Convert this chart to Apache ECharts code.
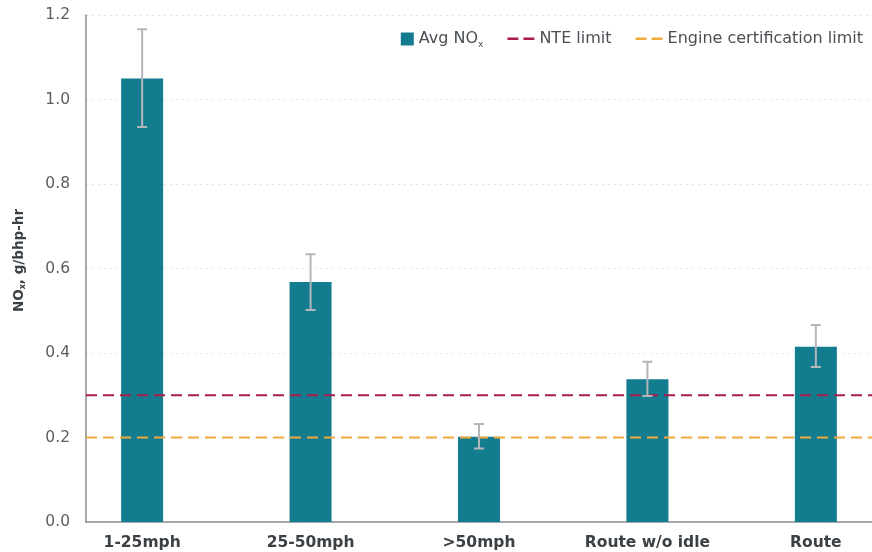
<!DOCTYPE html>
<html>
<head>
<meta charset="utf-8">
<script src="https://cdn.jsdelivr.net/npm/echarts@6/dist/echarts.min.js"></script>
<style>
html,body{margin:0;padding:0;background:#fff;}
#chart{width:872px;height:552px;}
</style>
</head>
<body>
<div id="chart"></div>
<script>
// Average NOx by speed bin, with error-bar range
const categories = ['1-25mph', '25-50mph', '>50mph', 'Route w/o idle', 'Route'];
const avgNox = [1.05, 0.568, 0.202, 0.338, 0.415];
const errLow = [0.935, 0.502, 0.174, 0.298, 0.367];
const errHigh = [1.166, 0.634, 0.232, 0.379, 0.466];
const nteLimit = 0.3;
const certLimit = 0.2;
const yTicks = [0, 0.2, 0.4, 0.6, 0.8, 1.0, 1.2];

const FONT = '"DejaVu Sans", "Open Sans", sans-serif';
const xMin = -1 / 3, xMax = categories.length - 1 + 1 / 3;

const BAR_COLOR = '#137c8e';
const NTE_COLOR = '#a81d4e';
const CERT_COLOR = '#f2a93b';
const AXIS_COLOR = '#8a8d90';

// legend glyphs: a square for the bars, a pair of dashes for the limit lines
const squareIcon = 'path://M14,0H27V13H14Z M0,0L0,0';
const dashIcon = 'path://M0,5H11V7.5H0Z M16,5H27V7.5H16Z M0,0L0,0 M27,13L27,13';

const chart = echarts.init(document.getElementById('chart'), null, { renderer: 'canvas' });

const barData = avgNox.map((v, i) => [i, v]);
const errData = categories.map((c, i) => [i, errLow[i], errHigh[i]]);

chart.setOption({
  animation: false,
  textStyle: { fontFamily: FONT },
  grid: { left: 86, right: 0, top: 15, bottom: 30, containLabel: false },
  legend: {
    top: 26, right: 4,
    itemGap: 24,
    itemWidth: 27, itemHeight: 13,
    textStyle: {
      fontFamily: FONT, fontSize: 16, color: '#4a4f54',
      rich: { sub: { fontSize: 9, verticalAlign: 'bottom', padding: [11, 0, 0, 0], color: '#4a4f54', fontFamily: FONT } }
    },
    data: [
      { name: 'Avg NOx', icon: squareIcon, itemStyle: { color: BAR_COLOR } },
      { name: 'NTE limit', icon: dashIcon, itemStyle: { color: NTE_COLOR } },
      { name: 'Engine certification limit', icon: dashIcon, itemStyle: { color: CERT_COLOR } }
    ],
    formatter: n => n === 'Avg NOx' ? 'Avg NO{sub|x}' : n
  },
  xAxis: {
    type: 'value', min: xMin, max: xMax,
    axisLine: { show: true, onZero: false, lineStyle: { color: AXIS_COLOR, width: 1.5 } },
    axisTick: { show: false },
    splitLine: { show: false },
    axisLabel: {
      customValues: categories.map((c, i) => i),
      formatter: v => categories[Math.round(v)] || '',
      fontFamily: FONT, fontSize: 15.5, fontWeight: 'bold', color: '#3b4045', margin: 13
    }
  },
  yAxis: {
    type: 'value', min: 0, max: 1.2, interval: 0.2,
    name: 'NO{sub|x}, g/bhp-hr',
    nameLocation: 'middle', nameGap: 60, nameRotate: 90,
    nameTextStyle: {
      fontFamily: FONT, fontSize: 13.5, fontWeight: 'bold', color: '#3b4045',
      rich: { sub: { fontSize: 8, fontWeight: 'bold', color: '#3b4045', padding: [0, 0, -8, 0] } },
      padding: [0, 0, 0, 16]
    },
    axisLine: { show: true, onZero: false, lineStyle: { color: AXIS_COLOR, width: 1.5 } },
    axisTick: { show: false },
    splitLine: { show: true, lineStyle: { color: '#e0e2e4', type: [2, 4], width: 1 } },
    axisLabel: {
      fontFamily: FONT, fontSize: 15.5, color: '#5a5f64', margin: 16,
      formatter: v => yTicks.includes(Math.round(v * 10) / 10) ? v.toFixed(1) : ''
    }
  },
  series: [
    {
      name: 'Avg NOx', type: 'bar', data: barData, barWidth: 42,
      itemStyle: { color: BAR_COLOR }, z: 2
    },
    {
      name: 'NTE limit', type: 'line', data: [[xMin, nteLimit], [xMax, nteLimit]],
      symbol: 'none', lineStyle: { color: NTE_COLOR, width: 2, type: [11, 6] },
      itemStyle: { color: NTE_COLOR }, z: 3
    },
    {
      name: 'Engine certification limit', type: 'line', data: [[xMin, certLimit], [xMax, certLimit]],
      symbol: 'none', lineStyle: { color: CERT_COLOR, width: 2, type: [11, 6] },
      itemStyle: { color: CERT_COLOR }, z: 3
    },
    {
      name: 'error', type: 'custom', data: errData, z: 4,
      encode: { x: 0, y: [1, 2] },
      renderItem: (params, api) => {
        const x = api.value(0);
        const lo = api.coord([x, api.value(1)]);
        const hi = api.coord([x, api.value(2)]);
        const cap = 5;
        return {
          type: 'polyline',
          shape: {
            points: [
              [hi[0] - cap, hi[1]], [hi[0] + cap, hi[1]], [hi[0], hi[1]],
              [lo[0], lo[1]], [lo[0] - cap, lo[1]], [lo[0] + cap, lo[1]]
            ]
          },
          style: { stroke: '#b4b7ba', lineWidth: 2, fill: 'none' }
        };
      }
    }
  ]
});
</script>
</body>
</html>
